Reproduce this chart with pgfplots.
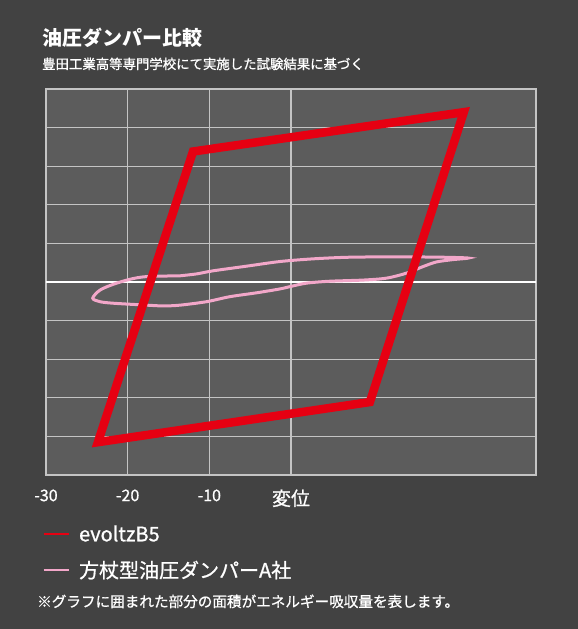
\documentclass[border=0pt]{standalone}
\usepackage{fontspec}
\setmainfont{Noto Sans CJK JP}
\newfontfamily\medfont{Noto Sans CJK JP}[FakeBold=0.9]
\usepackage{pgfplots}
\pgfplotsset{compat=1.18}
\definecolor{bg}{HTML}{424242}
\definecolor{panel}{HTML}{5C5C5C}
\definecolor{gridc}{HTML}{C4C4C4}
\definecolor{evred}{HTML}{E60012}
\definecolor{apink}{HTML}{F2A7C9}

\begin{document}
\begin{tikzpicture}
\useasboundingbox (0,0) rectangle (578bp,629bp);
\fill[bg] (0,0) rectangle (578bp,629bp);
\node[anchor=base west, text=white, inner sep=0pt,
  font=\bfseries\fontsize{20bp}{24bp}\selectfont] at (42bp,583bp) {油圧ダンパー比較};
\node[anchor=base west, text=white, inner sep=0pt,
  font=\medfont\fontsize{13.4bp}{16bp}\selectfont] at (42bp,560bp) {豊田工業高等専門学校にて実施した試験結果に基づく};
\node[anchor=base west, text=white, inner sep=0pt,
  font=\medfont\fontsize{14.6bp}{17bp}\selectfont] at (37bp,22bp) {※グラフに囲まれた部分の面積がエネルギー吸収量を表します。};

\begin{axis}[
  at={(46bp,154bp)}, anchor=south west,
  scale only axis, width=490bp, height=386bp,
  xmin=-30, xmax=30, ymin=-5, ymax=5,
  axis background/.style={fill=panel},
  axis line style={draw=gridc, line width=1.2bp},
  xtick={-30,-20,-10,0},
  xticklabels={-30,-20,-10,{\fontsize{19bp}{22bp}\selectfont 変位}},
  ytick={-5,-4,-3,-2,-1,0,1,2,3,4,5},
  yticklabels={},
  major tick length=0pt,
  grid=major,
  grid style={draw=gridc, line width=1.2bp},
  xticklabel style={text=white, font=\medfont\fontsize{16bp}{18bp}\selectfont, yshift=-11bp},
  legend style={draw=none, fill=none, text=white,
    font=\medfont\fontsize{20bp}{23bp}\selectfont,
    at={(axis description cs:-0.008,-0.13)}, anchor=north west,
    inner sep=0pt, row sep=18bp, column sep=9bp,
    nodes={inner sep=0pt}},
  legend cell align=left,
  legend image code/.code={\draw[#1, line width=2.8bp] (0bp,0bp) -- (25bp,0bp);},
]
\addlegendimage{evred}
\addlegendentry{evoltzB5}
\addlegendimage{apink}
\addlegendentry{方杖型油圧ダンパーA社}

\addplot[white, line width=2.5bp, forget plot] coordinates {(-30,0) (30,0)};

\addplot[apink, line width=3bp, smooth, tension=0.5, forget plot] coordinates {
  (-13.6,0.16) (-11.55,0.21) (-9.52,0.29) (-5.43,0.41) (-1.36,0.53)
  (2.72,0.60) (6.81,0.64) (10.88,0.65) (14.96,0.65) (19.05,0.64) (21.7,0.62)
  (19.85,0.58) (17.82,0.52) (16.18,0.40) (14.15,0.23) (11.7,0.10)
  (8.84,0.05) (4.76,0.02) (1.91,-0.03) (-0.13,-0.12) (-1.36,-0.18)
  (-4.21,-0.28) (-7.48,-0.38) (-10.33,-0.51) (-13.6,-0.60) (-15.64,-0.62)
  (-17.67,-0.60) (-21.76,-0.55) (-23.39,-0.51) (-24.28,-0.42) (-23.39,-0.21)
  (-21.76,-0.06) (-19.72,0.07) (-17.67,0.14) (-13.6,0.16)
};

\addplot[evred, line width=8.5bp, line join=miter, forget plot] coordinates {
  (-12.0,3.38) (21.16,4.40) (9.66,-3.11) (-23.64,-4.15)
} -- cycle;
\end{axis}
\end{tikzpicture}
\end{document}
